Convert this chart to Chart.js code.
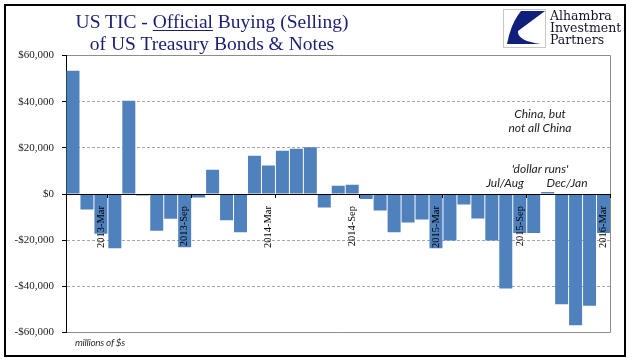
<!DOCTYPE html>
<html>
<head>
<meta charset="utf-8">
<script src="https://cdn.jsdelivr.net/npm/chart.js@4"></script>
<style>
    body { margin: 0; background: #fff; }
    #wrap { position: relative; width: 641px; height: 361px; overflow: hidden; }
    #chart { position: absolute; left: 0; top: 0; }
    .frame { position: absolute; left: 4px; top: 4px; width: 622px; height: 353px; box-sizing: border-box; border: 2px solid #000; pointer-events: none; }
    .title { position: absolute; left: 0; top: 11px; width: 424px; text-align: center; font-family: "Liberation Serif", serif; font-size: 19.5px; line-height: 21.5px; color: #1b1f73; white-space: nowrap; }
    .title u { text-decoration-thickness: 1px; text-underline-offset: 2px; }
    .logo-box { position: absolute; left: 503px; top: 9px; width: 43px; height: 39px; box-sizing: border-box; border: 1px solid #c8c8c8; }
    .logo-text { position: absolute; left: 550px; top: 10px; font-family: "DejaVu Serif", serif; font-size: 12.5px; line-height: 12.2px; color: #14142a; white-space: nowrap; }
    .note { position: absolute; transform: translate(-50%, -50%); font-family: Lato, sans-serif; font-style: italic; font-size: 12px; color: #222; white-space: nowrap; }
    .units { position: absolute; left: 75px; top: 342px; transform: translateY(-50%); font-family: Lato, sans-serif; font-style: italic; font-size: 10px; letter-spacing: -0.3px; color: #333; white-space: nowrap; }
</style>
</head>
<body>
<div id="wrap">
    <canvas id="chart" width="641" height="361"></canvas>
    <div class="title">US TIC - <u>Official</u> Buying (Selling)<br>of US Treasury Bonds &amp; Notes</div>
    <div class="logo-box">
        <svg width="41" height="37" viewBox="0 0 41 37">
            <path d="M17,1 L41,1 L14,21 Q13,31 37,34 L3,34 Q7,13 17,1 Z" fill="#0f1f7a"/>
        </svg>
    </div>
    <div class="logo-text">Alhambra<br>Investment<br>Partners</div>
    <div class="note" style="left:540px; top:113px;">China, but</div>
    <div class="note" style="left:540px; top:127px;">not all China</div>
    <div class="note" style="left:540px; top:168px;">'dollar runs'</div>
    <div class="note" style="left:505px; top:182px;">Jul/Aug</div>
    <div class="note" style="left:567px; top:182px;">Dec/Jan</div>
    <div class="units">millions of $s</div>
    <div class="frame"></div>
</div>
<script>
// monthly official net buying (selling) of US Treasury bonds & notes, $ millions
const months = [
    '2013-Jan', '2013-Feb', '2013-Mar', '2013-Apr', '2013-May', '2013-Jun',
    '2013-Jul', '2013-Aug', '2013-Sep', '2013-Oct', '2013-Nov', '2013-Dec',
    '2014-Jan', '2014-Feb', '2014-Mar', '2014-Apr', '2014-May', '2014-Jun',
    '2014-Jul', '2014-Aug', '2014-Sep', '2014-Oct', '2014-Nov', '2014-Dec',
    '2015-Jan', '2015-Feb', '2015-Mar', '2015-Apr', '2015-May', '2015-Jun',
    '2015-Jul', '2015-Aug', '2015-Sep', '2015-Oct', '2015-Nov', '2015-Dec',
    '2016-Jan', '2016-Feb', '2016-Mar',
];
const officialFlows = [
    53400, -6700, -17200, -23500, 40400, -600,
    -15900, -10700, -23100, -1500, 10500, -11400,
    -16600, 16600, 12300, 18700, 19600, 20200,
    -5800, 3600, 4000, -2200, -7100, -16600,
    -12300, -11000, -23500, -20100, -4500, -10600,
    -20100, -40900, -16900, -16900, 900, -47800,
    -56900, -48400, -16900,
];
const shownLabels = ['2013-Mar', '2013-Sep', '2014-Mar', '2014-Sep', '2015-Mar', '2015-Sep', '2016-Mar'];
const yTicks = { min: -60000, max: 60000, step: 20000 };

const frameGrey = '#8c8c8c';

new Chart(document.getElementById('chart'), {
    type: 'bar',
    data: {
        labels: months,
        datasets: [{
            data: officialFlows,
            backgroundColor: '#4f81bd',
            borderWidth: 0,
            barPercentage: 0.93,
            categoryPercentage: 1.0,
        }],
    },
    options: {
        responsive: false,
        animation: false,
        layout: { padding: { left: 0, top: 55.5, right: 30.5, bottom: 28.5 } },
        plugins: { legend: { display: false }, tooltip: { enabled: false } },
        scales: {
            x: {
                position: { y: 0 },
                offset: true,
                grid: {
                    offset: true,
                    drawOnChartArea: true,
                    // only the right edge of the plot is drawn as a line
                    color: (c) => (c.type === 'scale' ? frameGrey : 'rgba(0,0,0,0)'),
                    tickColor: (c) => (c.type === 'scale' || c.index % 6 === 3 ? '#000' : 'rgba(0,0,0,0)'),
                    tickLength: 3,
                    z: 1,
                },
                border: { display: true, color: '#000', width: 1, z: 1 },
                ticks: {
                    autoSkip: false,
                    maxRotation: 90,
                    minRotation: 90,
                    padding: 9,
                    z: 1,
                    color: '#000',
                    font: { family: 'Liberation Serif', size: 10.5 },
                    callback: (value, index) => (shownLabels.includes(months[index]) ? months[index] : ''),
                },
            },
            y: {
                min: yTicks.min,
                max: yTicks.max,
                afterFit: (scale) => { scale.width = 66; },
                grid: {
                    color: (c) => {
                        const v = Math.abs(c.tick.value);
                        if (v === 0) return 'rgba(0,0,0,0)';
                        return v === 60000 ? frameGrey : '#a6a6a6';
                    },
                    tickColor: '#000',
                    tickLength: 4,
                },
                border: {
                    display: true,
                    color: '#000',
                    width: 1,
                    dash: (c) => (c.type === 'tick' && Math.abs(c.tick.value) !== 60000 ? [3, 2] : []),
                },
                ticks: {
                    stepSize: yTicks.step,
                    padding: 8,
                    color: '#222',
                    font: { family: 'Liberation Serif', size: 11 },
                    callback: (v) => (v < 0 ? '-$' : '$') + Math.abs(v).toLocaleString('en-US'),
                },
            },
        },
    },
});
</script>
</body>
</html>
